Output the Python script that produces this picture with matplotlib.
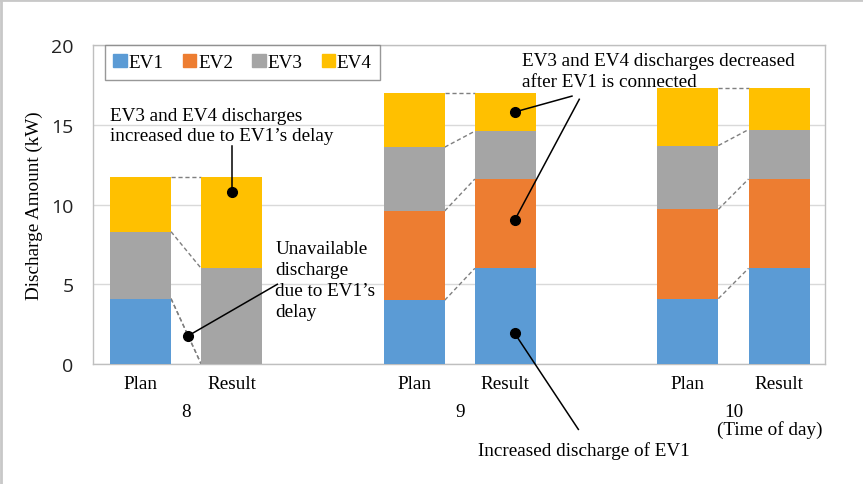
import matplotlib
matplotlib.use('Agg')
import matplotlib.pyplot as plt
from matplotlib.lines import Line2D
from matplotlib.patches import Patch
import numpy as np

# ---- data ----
hours = ['8', '9', '10']
cases = ['Plan', 'Result']
series = ['EV1', 'EV2', 'EV3', 'EV4']
ev1 = [4.1, 0.0, 4.0, 6.0, 4.1, 6.0]
ev2 = [0.0, 0.0, 5.6, 5.6, 5.6, 5.6]
ev3 = [4.2, 6.0, 4.0, 3.0, 4.0, 3.1]
ev4 = [3.4, 5.7, 3.4, 2.4, 3.6, 2.6]
colors = ['#5B9BD5', '#ED7D31', '#A5A5A5', '#FFC000']

serif = 'Liberation Serif'
fs = 13.8

fig = plt.figure(figsize=(8.63, 4.85), dpi=100)
ax = fig.add_axes([0.1078, 0.2474, 0.8478, 0.6576])

# bar positions: two bars per hour, one empty slot between hours
pos = []
for g in range(len(hours)):
    for c in range(len(cases)):
        pos.append(g * 3 + c)
pos = np.array(pos, dtype=float)
w = 0.67

vals = np.array([ev1, ev2, ev3, ev4])
bottoms = np.zeros(len(pos))
for i, name in enumerate(series):
    ax.bar(pos, vals[i], w, bottom=bottoms, color=colors[i], label=name, zorder=3)
    bottoms = bottoms + vals[i]
cum = np.cumsum(vals, axis=0)

# dashed connectors between plan and result
for g in range(len(hours)):
    p, r = 2 * g, 2 * g + 1
    for i in range(len(series)):
        ax.plot([pos[p] + w / 2, pos[r] - w / 2], [cum[i, p], cum[i, r]],
                color='#7f7f7f', ls=(0, (3, 2)), lw=1.0, zorder=2)

ax.set_xlim(-0.52, 7.5)
ax.set_ylim(0, 20)
ax.set_yticks([0, 5, 10, 15, 20])
ax.tick_params(axis='y', length=0, pad=14, labelsize=14, labelcolor='#222222')
for lab in ax.get_yticklabels():
    lab.set_family('Open Sans')
ax.set_xticks(pos)
ax.set_xticklabels(cases * len(hours), family=serif, fontsize=fs)
ax.tick_params(axis='x', length=0, pad=8)
ax.grid(axis='y', color='#d9d9d9', lw=1, zorder=0)
ax.set_axisbelow(True)
for s in ax.spines.values():
    s.set_color('#bfbfbf')
    s.set_linewidth(1)

ax.set_ylabel('Discharge Amount (kW)', family=serif, fontsize=fs, labelpad=6)

# hour labels under each pair
trans = ax.get_xaxis_transform()
for g, h in enumerate(hours):
    ax.text(g * 3 + 0.5, -0.148, h, transform=trans, ha='center', va='center',
            family=serif, fontsize=fs)
ax.text(6.9, -0.203, '(Time of day)', transform=trans, ha='center', va='center',
        family=serif, fontsize=fs)

# legend
handles = [Patch(color=c) for c in colors]
leg = ax.legend(handles, series, ncol=4, loc='upper left', bbox_to_anchor=(0.016, 1.0),
                prop={'family': serif, 'size': fs}, fancybox=False, handlelength=0.7,
                handleheight=0.7, handletextpad=0.1, columnspacing=1.0,
                borderpad=0.45, borderaxespad=0)
leg.get_frame().set_edgecolor('#7f7f7f')
leg.get_frame().set_linewidth(1)

# annotations
def dot_line(x0, y0, x1, y1):
    ax.plot([x0, x1], [y0, y1], color='black', lw=1.1, zorder=5, clip_on=False)
    ax.plot([x0], [y0], 'o', color='black', ms=7, zorder=6, clip_on=False)

ax.text(-0.33, 16.1, 'EV3 and EV4 discharges\nincreased due to EV1\u2019s delay',
        family=serif, fontsize=fs, va='top', ha='left', linespacing=1.2, zorder=6)
dot_line(1.0, 10.8, 1.0, 13.7)

ax.text(1.48, 7.75, 'Unavailable\ndischarge\ndue to EV1\u2019s\ndelay',
        family=serif, fontsize=fs, va='top', ha='left', linespacing=1.3, zorder=6)
dot_line(0.52, 1.76, 1.5, 5.0)

ax.text(4.18, 19.55, 'EV3 and EV4 discharges decreased\nafter EV1 is connected',
        family=serif, fontsize=fs, va='top', ha='left', linespacing=1.25, zorder=6)
dot_line(4.1, 15.8, 4.73, 16.8)
dot_line(4.1, 9.0, 4.81, 16.6)

ax.text(4.86, -4.85, 'Increased discharge of EV1', family=serif, fontsize=fs,
        va='top', ha='center', zorder=6)
dot_line(4.1, 1.94, 4.8, -4.1)

# thin border at top and left of picture
fig.add_artist(Line2D([0, 1], [0.998, 0.998], color='#c8c8c8', lw=2, transform=fig.transFigure))
fig.add_artist(Line2D([0.001, 0.001], [0, 1], color='#c8c8c8', lw=2, transform=fig.transFigure))

plt.savefig('out.png', dpi=100)
